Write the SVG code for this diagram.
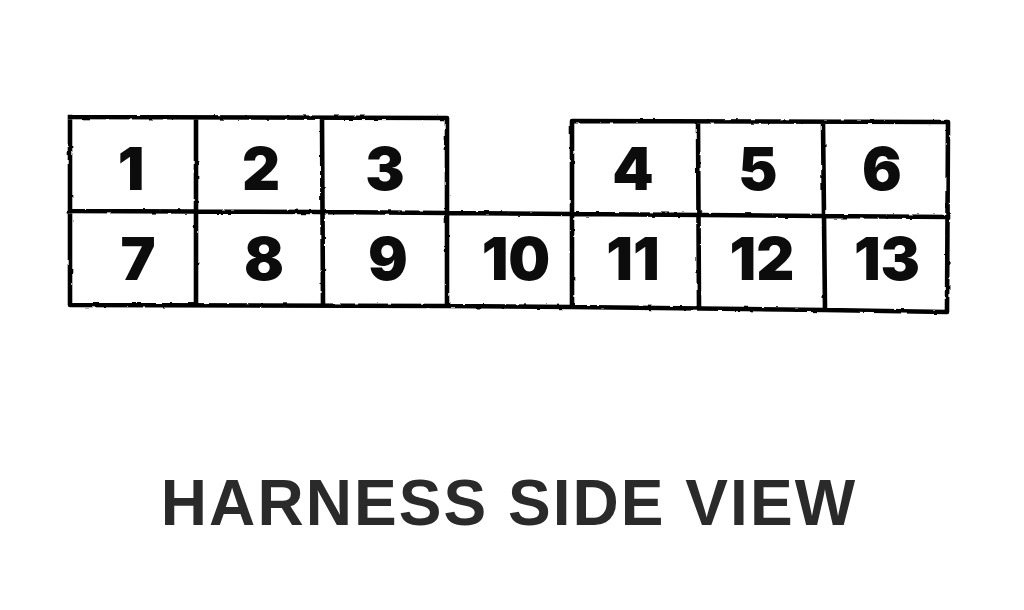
<svg xmlns="http://www.w3.org/2000/svg" width="1024" height="610" viewBox="0 0 1024 610">
<style>
.l{fill:none;stroke:#050505;stroke-width:4.6;stroke-linecap:square;stroke-linejoin:round}
.n{font-family:Inter,"Liberation Sans",sans-serif;font-weight:900;font-size:59px;fill:#0c0c0c;text-anchor:middle}
.t{font-family:"Liberation Sans",Arial,sans-serif;font-weight:bold;font-size:64px;letter-spacing:2.05px;fill:#2a2a2a;text-anchor:middle}
</style>
<defs>
<filter id="rough" x="-2%" y="-5%" width="104%" height="110%"><feTurbulence type="fractalNoise" baseFrequency="0.12" numOctaves="2" seed="4"/><feDisplacementMap in="SourceGraphic" scale="2.5" xChannelSelector="R" yChannelSelector="G"/></filter>
</defs>
<rect width="1024" height="610" fill="#fff"/>
<g id="connectors" filter="url(#rough)">
<path class="l" d="M70 117L447 118L447 306M70 117L70 305L447 306L572 307L825 310L947 312L948 122L572 121L572 307M70 211L322 212L447 213L572 214L948 217M196 118L196 305M322 118L323 305M698 122L699 308M823 122L825 310"/>
</g>
<g id="n1"><text class="n" x="131" y="190">1</text></g>
<g id="n2"><text class="n" x="261" y="190">2</text></g>
<g id="n3"><text class="n" x="385" y="190">3</text></g>
<g id="n4"><text class="n" x="633" y="190">4</text></g>
<g id="n5"><text class="n" x="758" y="190">5</text></g>
<g id="n6"><text class="n" x="882" y="190">6</text></g>
<g id="n7"><text class="n" x="138" y="280">7</text></g>
<g id="n8"><text class="n" x="264" y="280">8</text></g>
<g id="n9"><text class="n" x="388" y="280">9</text></g>
<g id="n10"><text class="n" x="516" y="280">10</text></g>
<g id="n11"><text class="n" x="633" y="280">11</text></g>
<g id="n12"><text class="n" x="762" y="280">12</text></g>
<g id="n13"><text class="n" x="887" y="280">13</text></g>
<g id="title"><text class="t" x="509" y="525">HARNESS SIDE VIEW</text></g>
</svg>
